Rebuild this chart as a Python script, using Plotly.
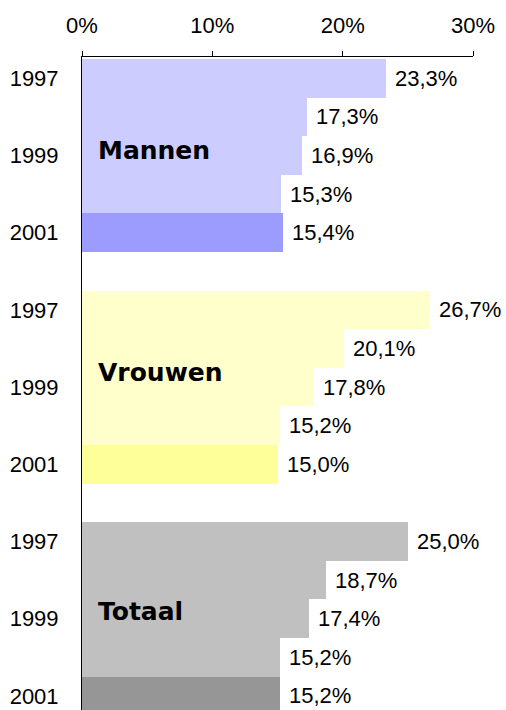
import plotly.graph_objects as go

groups = ["Mannen", "Vrouwen", "Totaal"]
years = ["1997", "1998", "1999", "2000", "2001"]
mannen = [23.3, 17.3, 16.9, 15.3, 15.4]
vrouwen = [26.7, 20.1, 17.8, 15.2, 15.0]
totaal = [25.0, 18.7, 17.4, 15.2, 15.2]
x_ticks = [0, 10, 20, 30]
x_tick_labels = ["0%", "10%", "20%", "30%"]
shown_years = ["1997", "1999", "2001"]

light = ["#CCCCFF", "#FFFFCC", "#C0C0C0"]
dark = ["#9C9CFF", "#FFFF99", "#969696"]
label_yshift = [5, 15, 7]

series = [mannen, vrouwen, totaal]
fig = go.Figure()
ann = []
tickvals, ticktext = [], []
for gi, (g, vals) in enumerate(zip(groups, series)):
    base = gi * (len(years) + 1)
    pos = [base + i for i in range(len(years))]
    colors = [light[gi]] * (len(years) - 1) + [dark[gi]]
    fig.add_trace(go.Bar(x=vals, y=pos, orientation="h", width=1.0,
                         marker=dict(color=colors, line=dict(width=0)),
                         showlegend=False, hoverinfo="skip"))
    for p, v, yr in zip(pos, vals, years):
        ann.append(dict(x=v, y=p, xref="x", yref="y", xanchor="left", yanchor="middle",
                        xshift=7, showarrow=False,
                        text=f"{v:.1f}".replace(".", ",") + "%",
                        font=dict(size=22, color="black")))
        if yr in shown_years:
            tickvals.append(p)
            ticktext.append(yr)
    ann.append(dict(x=1.1, y=pos[2], xref="x", yref="y", xanchor="left", yanchor="middle",
                    yshift=label_yshift[gi], showarrow=False, text="<b>" + g + "</b>",
                    font=dict(family="DejaVu Sans", size=25, color="black")))

fig.update_layout(
    width=506, height=710,
    margin=dict(l=82, r=33, t=57, b=0),
    paper_bgcolor="white", plot_bgcolor="white",
    font=dict(family="Liberation Sans, Arial, sans-serif", size=22, color="black"),
    bargap=0,
    annotations=ann,
    xaxis=dict(side="top", range=[0, 30], tickvals=x_ticks, ticktext=x_tick_labels,
               showgrid=False, zeroline=False, showline=True, linecolor="black", linewidth=1,
               ticks="outside", ticklen=5, tickcolor="black", tickfont=dict(size=22),
               ticklabelstandoff=9, automargin=False),
    yaxis=dict(range=[16.365, -0.552], tickvals=tickvals, ticktext=ticktext,
               showgrid=False, zeroline=False, showline=True, linecolor="black", linewidth=1,
               ticks="", tickfont=dict(size=22), ticklabelstandoff=18, automargin=False),
)
fig.write_html("out.html", config={"displayModeBar": False},
               post_script="document.body.style.margin='0';document.body.style.overflow='hidden';")
